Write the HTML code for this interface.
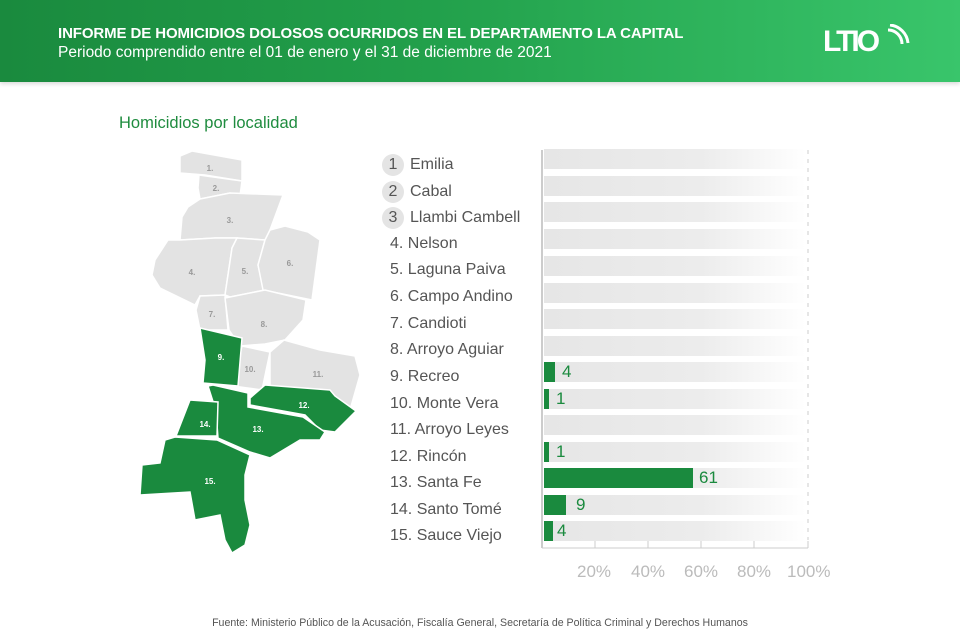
<!DOCTYPE html>
<html><head><meta charset="utf-8"><style>
body{margin:0;width:960px;height:638px;background:#fff;font-family:"Liberation Sans",sans-serif;position:relative;overflow:hidden}
.hdr{position:absolute;left:0;top:0;width:960px;height:82px;background:linear-gradient(90deg,#1a8a3e 0%,#22a04b 45%,#39c56b 100%);box-shadow:0 2px 4px rgba(0,0,0,.15)}
.t1{position:absolute;left:58px;top:25px;color:#fff;font-weight:bold;font-size:15px;letter-spacing:-0.1px}
.t2{position:absolute;left:58px;top:44px;color:#fff;font-size:15.5px;letter-spacing:0px}
.sub{position:absolute;left:119px;top:114px;color:#1f8c3f;font-size:16.5px}
.lbl{position:absolute;left:390px;font-size:16px;color:#555;height:20px;line-height:20px;margin-top:2px}
.c{display:inline-block;width:22px;height:22px;border-radius:11px;background:#e4e4e4;text-align:center;line-height:22px;margin-left:-8px;margin-right:6px}
.bg{position:absolute;left:544px;width:262px;height:20px;background:linear-gradient(90deg,#e6e6e6,#ececec 60%,#fff)}
.bar{position:absolute;left:544px;height:20px;background:#1a8a3e}
.v{position:absolute;font-size:17px;color:#1a8a3e;line-height:20px}
.ax{position:absolute;font-size:17px;color:#bbb;top:562px}
.foot{position:absolute;left:0;width:960px;top:617px;text-align:center;font-size:10.6px;color:#555}
</style></head><body>
<div class="hdr">
<div class="t1">INFORME DE HOMICIDIOS DOLOSOS OCURRIDOS EN EL DEPARTAMENTO LA CAPITAL</div>
<div class="t2">Periodo comprendido entre el 01 de enero y el 31 de diciembre de 2021</div>
<div style="position:absolute;left:823px;top:26px;color:#fff;font-weight:bold;font-size:30px;letter-spacing:-3px;line-height:32px">LTIO</div>
<svg style="position:absolute;left:880px;top:24px" width="30" height="30"><path d="M8 6 A14 14 0 0 1 22 20" stroke="#fff" stroke-width="3" fill="none"/><path d="M10 1 A20 20 0 0 1 28 19" stroke="#fff" stroke-width="3" fill="none"/></svg>
</div>
<div class="sub">Homicidios por localidad</div>

<svg style="position:absolute;left:0;top:0" width="960" height="638">
<g stroke="#fff" stroke-width="1.5" font-family="Liberation Sans" font-size="8" font-weight="bold">
<g fill="#e3e3e3">
<polygon points="180,156 192,151 242,160 242,181 205,175 180,173"/>
<polygon points="199,175 242,181 240,196 230,193 200,199 198,188"/>
<polygon points="200,199 230,193 283,195 270,230 265,240 237,238 215,238 180,240 182,217 188,207"/>
<polygon points="155,260 168,240 180,240 215,238 237,238 232,248 225,295 200,296 195,305 160,288 152,275"/>
<polygon points="237,238 265,240 258,265 265,290 230,297 225,295 232,248"/>
<polygon points="270,230 285,226 308,232 320,240 312,300 263,290 258,265 265,240"/>
<polygon points="200,296 225,295 228,330 200,330 196,310"/>
<polygon points="225,298 265,290 306,300 303,320 285,340 265,344 240,346 229,330"/>
<polygon points="242,346 270,352 262,390 233,386"/>
<polygon points="270,352 284,340 320,350 355,356 360,375 350,410 334,409 320,390 270,386"/>
</g>
<g fill="#1a8a3e">
<polygon points="200,328 242,338 238,386 203,383 205,360"/>
<polygon points="250,398 265,385 330,390 335,396 356,411 335,432 320,430 305,415 250,405"/>
<polygon points="213,385 248,393 248,407 303,417 325,432 320,440 300,440 270,458 250,452 218,438 216,411 208,386"/>
<polygon points="190,400 218,402 217,436 176,436"/>
<polygon points="175,437 217,440 250,455 245,475 245,500 250,525 245,545 232,553 225,540 220,515 195,520 190,492 140,495 142,465 160,463 165,440"/>
</g>
</g>
<g font-family="Liberation Sans" font-size="8" font-weight="bold" fill="#999" text-anchor="middle">
<text x="210" y="171">1.</text><text x="216" y="191">2.</text><text x="230" y="223">3.</text><text x="192" y="275">4.</text><text x="245" y="274">5.</text><text x="290" y="266">6.</text><text x="212" y="317">7.</text><text x="264" y="327">8.</text><text x="250" y="372">10.</text><text x="318" y="377">11.</text>
<g fill="#fff"><text x="221" y="360">9.</text><text x="304" y="408">12.</text><text x="258" y="432">13.</text><text x="205" y="427">14.</text><text x="210" y="484">15.</text></g>
</g>
<line x1="542" y1="150" x2="542" y2="548" stroke="#ccc" stroke-width="2"/>
<line x1="542" y1="548" x2="808" y2="548" stroke="#ccc" stroke-width="1"/>
<g stroke="#ccc" stroke-width="1">
<line x1="595" y1="541" x2="595" y2="548"/><line x1="648" y1="541" x2="648" y2="548"/><line x1="701" y1="541" x2="701" y2="548"/><line x1="754" y1="541" x2="754" y2="548"/><line x1="808" y1="541" x2="808" y2="548"/>
<line x1="808" y1="150" x2="808" y2="540" stroke-dasharray="4,5"/>
</g>
</svg>

<div class="lbl" style="top:152px"><span class="c">1</span>Emilia</div>
<div class="lbl" style="top:179px"><span class="c">2</span>Cabal</div>
<div class="lbl" style="top:205px"><span class="c">3</span>Llambi Cambell</div>
<div class="lbl" style="top:232px">4. Nelson</div>
<div class="lbl" style="top:258px">5. Laguna Paiva</div>
<div class="lbl" style="top:285px">6. Campo Andino</div>
<div class="lbl" style="top:312px">7. Candioti</div>
<div class="lbl" style="top:338px">8. Arroyo Aguiar</div>
<div class="lbl" style="top:365px">9. Recreo</div>
<div class="lbl" style="top:392px">10. Monte Vera</div>
<div class="lbl" style="top:418px">11. Arroyo Leyes</div>
<div class="lbl" style="top:445px">12. Rincón</div>
<div class="lbl" style="top:471px">13. Santa Fe</div>
<div class="lbl" style="top:498px">14. Santo Tomé</div>
<div class="lbl" style="top:524px">15. Sauce Viejo</div>

<div class="bg" style="top:149px"></div><div class="bg" style="top:176px"></div><div class="bg" style="top:202px"></div><div class="bg" style="top:229px"></div><div class="bg" style="top:256px"></div><div class="bg" style="top:283px"></div><div class="bg" style="top:309px"></div><div class="bg" style="top:336px"></div><div class="bg" style="top:362px"></div><div class="bg" style="top:389px"></div><div class="bg" style="top:415px"></div><div class="bg" style="top:442px"></div><div class="bg" style="top:468px"></div><div class="bg" style="top:495px"></div><div class="bg" style="top:521px"></div>

<div class="bar" style="top:362px;width:11px"></div><div class="v" style="left:562px;top:362px">4</div>
<div class="bar" style="top:389px;width:5px"></div><div class="v" style="left:556px;top:389px">1</div>
<div class="bar" style="top:442px;width:5px"></div><div class="v" style="left:556px;top:442px">1</div>
<div class="bar" style="top:468px;width:149px"></div><div class="v" style="left:699px;top:468px">61</div>
<div class="bar" style="top:495px;width:22px"></div><div class="v" style="left:576px;top:495px">9</div>
<div class="bar" style="top:521px;width:9px"></div><div class="v" style="left:557px;top:521px">4</div>

<div class="ax" style="left:577px">20%</div><div class="ax" style="left:631px">40%</div><div class="ax" style="left:684px">60%</div><div class="ax" style="left:737px">80%</div><div class="ax" style="left:787px">100%</div>

<div class="foot">Fuente: Ministerio Público de la Acusación, Fiscalía General, Secretaría de Política Criminal y Derechos Humanos</div>
</body></html>
